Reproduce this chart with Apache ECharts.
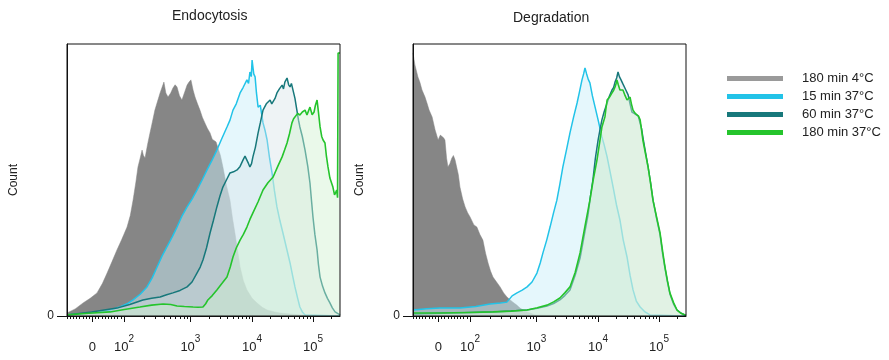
<!DOCTYPE html>
<html><head><meta charset="utf-8">
<script src="https://cdn.jsdelivr.net/npm/echarts@6/dist/echarts.min.js"></script>
<style>html,body{margin:0;padding:0;background:#fff}#c{width:889px;height:360px}</style>
</head><body><div id="c"></div>
<script>
// ---- text ----
const panelTitles = ['Endocytosis', 'Degradation'];
const yAxisTitle = 'Count';
const seriesNames = ['180 min 4°C', '15 min 37°C', '60 min 37°C', '180 min 37°C'];

// ---- x axis: biexponential display channels (0..1000) ----
const tickChannels = [93, 209, 452, 678, 901];
const tickLabels = ['0', '10^2', '10^3', '10^4', '10^5'];
const decadeChannels = [209, 452, 678, 901, 1124]; // 10^2 .. 10^6

// ---- histograms: [channel, % of max count] ----
const endoGray = [[0,1.1],[30,2.6],[59,4.8],[85,6.5],[110,8.5],[130,12],[147,15.8],[165,20],[183,24.3],[200,28],[220,32.7],[232,37],[242,42.6],[252,49],[260,54.8],[268,58],[275,61.0],[280,59],[286,58.1],[295,63],[304,67.3],[312,71],[322,75.7],[332,79],[341,82.0],[348,84],[355,86.0],[362,82],[370,80.5],[380,82],[388,83.8],[396,85],[403,84.2],[412,81],[421,79.4],[430,82],[440,84.9],[447,86],[454,86.8],[462,83],[469,80.5],[478,78],[487,75.7],[496,73],[505,71.0],[514,69],[524,67.3],[532,65],[538,65.4],[546,64],[553,64.7],[562,59],[571,54.8],[584,48],[597,42.6],[606,36],[615,30.5],[625,24],[634,18.0],[646,13],[659,9.6],[678,6.5],[696,4.8],[715,3.2],[733,2.2],[760,1.5],[780,1.1],[853,0.4],[1000,0]];
const endoCyan = [[0,0.4],[60,0.9],[121,1.5],[160,2.3],[194,3.3],[220,4.5],[242,5.9],[268,8],[293,10.7],[312,14],[330,18.0],[348,22],[366,25.4],[385,29],[403,32.7],[420,36.5],[440,40.1],[458,43],[476,46.3],[495,50],[513,53.7],[530,57],[549,61.0],[566,65],[586,69.5],[597,72],[608,75.7],[620,78],[634,82.0],[645,84],[659,86.8],[665,85.5],[670,89.7],[675,88],[678,94.1],[684,89],[689,87.9],[694,82],[700,76.8],[708,77.5],[718,71.0],[726,68],[733,64.7],[742,58],[751,52.6],[760,46],[769,40.1],[780,35],[791,30.5],[804,25],[817,19.5],[826,15],[835,10.7],[845,6.5],[853,3.3],[862,1.5],[872,0.4],[1000,0]];
const endoTeal = [[0,0.4],[90,1.5],[183,2.9],[230,4.2],[278,5.9],[310,6.5],[341,7.0],[365,7.8],[388,8.5],[414,9.4],[440,10.7],[458,12.5],[476,15.8],[488,18],[498,20.6],[511,25],[524,30.5],[536,35],[549,40.1],[560,44],[571,47.4],[584,50],[597,52.6],[610,53],[623,53.7],[634,55],[645,57.4],[652,58.8],[659,58.5],[665,56],[670,54.8],[676,56],[681,58.5],[690,62],[700,67.3],[708,71],[718,75.7],[730,78],[744,79.4],[750,78],[755,77.6],[762,80],[769,82.0],[778,83.5],[788,84.9],[793,83.5],[798,86.0],[802,86],[806,87.5],[812,85],[817,84.2],[822,85.5],[828,84.9],[835,80],[842,75.7],[848,72],[853,69.5],[862,66],[872,61.0],[882,55],[890,48.9],[896,42],[901,36.4],[908,30],[916,24.3],[921,19],[927,14.3],[936,11],[945,8.5],[954,6.5],[963,4.8],[972,3],[982,1.5],[1000,0.4]];
const endoGreen = [[0,0.4],[80,1],[158,1.5],[210,2.4],[267,3.3],[310,4],[352,4.4],[380,4.2],[403,3.7],[430,3.5],[462,3.3],[480,3.2],[498,3.3],[508,4.5],[516,5.9],[532,7.5],[549,9.6],[568,12],[586,14.3],[598,18],[608,21.7],[620,25],[634,27.9],[646,30],[659,32.7],[670,35.5],[681,37.9],[700,42],[718,46.3],[736,49],[755,51.1],[772,55],[788,58.5],[797,61],[806,63.6],[815,67],[824,71.0],[830,72.5],[835,73.2],[845,74.5],[853,73.9],[862,75],[872,75.7],[879,73.9],[885,75.5],[890,76.8],[898,74],[905,75.0],[910,77.5],[916,79.4],[921,75],[927,69.5],[933,66],[938,64.7],[945,63.6],[950,59],[956,54.8],[963,50.7],[968,50],[974,47.4],[980,44.5],[984,43.8],[988,46.3],[991,43.5],[993,96.7],[1000,96.7]];

const degrGray = [[0,96.7],[7,92.3],[18,87.9],[25,86],[33,83.1],[44,80.5],[52,78],[59,75.7],[70,73.2],[81,68.4],[92,64.7],[100,66.5],[106,67],[112,65.5],[117,64.7],[123,58],[128,54.8],[135,56],[142,58],[148,59],[154,57.4],[161,58.1],[166,52],[172,47.4],[182,43],[191,40.1],[200,38],[209,36.4],[223,33.5],[234,32.7],[245,30],[256,27.9],[266,23],[275,19.5],[284,16.5],[293,14.3],[306,12.5],[319,10.7],[332,8.5],[344,7.0],[355,6],[366,5.1],[380,4],[392,2.9],[405,2.1],[418,1.5],[447,0.4],[600,0],[1000,0]];
const degrCyan = [[0,2.2],[50,2.7],[99,2.9],[172,2.9],[230,3.5],[282,4.4],[320,4.8],[344,5.1],[363,7.4],[381,8.5],[400,9.5],[418,10.7],[436,12.5],[454,15.8],[466,19.5],[476,23.2],[490,28],[502,32.7],[515,38],[527,42.6],[538,48.5],[549,54.8],[562,61],[575,67.3],[588,73],[601,78.3],[610,82.5],[619,86.8],[625,89],[630,91.2],[636,89],[642,87],[648,85.7],[657,81],[667,76.8],[678,72.1],[685,69],[692,65.8],[700,63],[711,58.5],[722,53],[733,47.4],[745,41],[758,35.3],[770,28],[784,21.7],[795,15],[806,9.6],[818,5.5],[832,3.3],[850,1.5],[868,0.4],[1000,0]];
const degrTeal = [[0,0.7],[150,1.1],[293,1.5],[360,1.8],[418,2.2],[455,2.8],[491,3.7],[515,4.6],[538,5.9],[556,7.5],[575,9.6],[594,15],[612,21.3],[626,29],[641,37.1],[650,44],[659,50.0],[668,58],[678,64.7],[685,68.5],[692,72.1],[700,75],[711,78.3],[720,81],[729,83.1],[735,84],[740,86.0],[746,87.5],[751,89.7],[756,88],[762,86.8],[768,85.5],[773,84.9],[780,83],[788,81.3],[795,78],[802,75.0],[810,74.5],[817,74.6],[825,73.5],[832,72.8],[837,69],[842,65.8],[852,60],[861,54.8],[870,49],[879,42.6],[892,36],[905,29.8],[914,23],[923,17.6],[932,12.5],[941,8.1],[954,4.5],[967,2.2],[982,1],[996,0.4],[1000,0.3]];
const degrGreen = [[0,1.1],[99,1.1],[200,1.3],[293,1.5],[360,1.8],[418,2.2],[455,3],[491,4.0],[515,5.2],[538,6.6],[556,8.5],[575,10.7],[594,16],[612,23.2],[630,33],[648,42.6],[660,50],[674,57.4],[684,64],[692,69.5],[698,71.5],[703,73.2],[707,76.5],[711,79.4],[720,80.5],[729,82.0],[735,83],[740,84.2],[744,85.5],[747,86.8],[752,85],[758,83.1],[763,82.5],[769,83.1],[777,81],[784,79.4],[790,79.5],[795,80.5],[800,78],[806,75.7],[814,74.5],[821,73.9],[826,73.5],[832,72.1],[837,68.5],[842,64.7],[851,60],[861,54.8],[870,49],[879,42.6],[892,36.5],[905,30.5],[914,24],[923,18.0],[932,13],[941,8.5],[954,5],[967,2.2],[982,1],[996,0.4],[1000,0.3]];

const panelData = [
  [endoGray, endoCyan, endoTeal, endoGreen],
  [degrGray, degrCyan, degrTeal, degrGreen]
];

// ---- styles ----
const lineColors = ['#858585', '#22c3e8', '#17787b', '#25c42c'];
const legendColors = ['#9a9a9a', '#22c3e8', '#17787b', '#25c42c'];
const fillColors = ['#868686', 'rgba(200,238,248,0.48)', 'rgba(215,226,231,0.42)', 'rgba(208,242,208,0.45)'];
const lineWidths = [0.5, 1.5, 1.5, 1.6];

// minor ticks (axis scale, not data)
const minorTicks = [];
for (let n = -8; n <= 9; n++) { if (n !== 0) minorTicks.push(tickChannels[0] + n * (decadeChannels[0] - tickChannels[0]) / 10); }
for (let k = 0; k < 4; k++) {
  for (let m = 2; m <= 9; m++) {
    const v = decadeChannels[k] + Math.log10(m) * (decadeChannels[k + 1] - decadeChannels[k]);
    if (v <= 1000) minorTicks.push(v);
  }
}

const grids = [
  { left: 67, top: 44, width: 273, height: 272 },
  { left: 413, top: 44, width: 273, height: 272 }
];

function labelFmt(v) {
  const i = tickChannels.indexOf(v);
  if (i < 0) return '';
  const t = tickLabels[i];
  if (t.indexOf('^') > 0) { const p = t.split('^'); return '{b|' + p[0] + '}{s|' + p[1] + '}'; }
  return '{b|' + t + '}';
}

const xAxes = [], yAxes = [], series = [];
grids.forEach((g, gi) => {
  xAxes.push({
    type: 'value', gridIndex: gi, min: 0, max: 1000, position: 'bottom', z: 10,
    axisLine: { show: true, lineStyle: { color: '#111', width: 1 } },
    axisTick: { show: true, customValues: tickChannels, length: 6, lineStyle: { color: '#111' } },
    axisLabel: {
      show: true, customValues: tickChannels, formatter: labelFmt, margin: 19, color: '#222',
      rich: {
        b: { fontFamily: 'Liberation Sans', fontSize: 13, lineHeight: 24, color: '#222' },
        s: { fontFamily: 'Liberation Sans', fontSize: 10, lineHeight: 8, padding: [0, 0, 16, 0], color: '#222' }
      }
    },
    splitLine: { show: false }
  });
  xAxes.push({
    type: 'value', gridIndex: gi, min: 0, max: 1000, position: 'bottom', z: 10,
    axisLine: { show: false },
    axisTick: { show: true, customValues: minorTicks, length: 3, lineStyle: { color: '#111' } },
    axisLabel: { show: false },
    splitLine: { show: false }
  });
  yAxes.push({
    type: 'value', gridIndex: gi, min: 0, max: 100, z: 10,
    name: yAxisTitle, nameLocation: 'middle', nameGap: 47,
    nameTextStyle: { fontFamily: 'Liberation Sans', fontSize: 12, color: '#222' },
    axisLine: { show: true, lineStyle: { color: '#111' } },
    axisTick: { show: true, customValues: [0], length: 10, lineStyle: { color: '#111' } },
    axisLabel: { show: true, customValues: [0], formatter: v => (v === 0 ? '0' : ''), margin: 13,
      fontFamily: 'Liberation Sans', fontSize: 12, color: '#222' },
    splitLine: { show: false }
  });
  panelData[gi].forEach((d, si) => {
    series.push({
      type: 'line', name: seriesNames[si], xAxisIndex: gi * 2, yAxisIndex: gi,
      z: 2 + si,
      data: d, showSymbol: false, symbol: 'none', smooth: false,
      itemStyle: { color: legendColors[si] },
      lineStyle: { color: lineColors[si], width: lineWidths[si] },
      areaStyle: { color: fillColors[si], opacity: 1, origin: 'start' },
      emphasis: { disabled: true }, silent: true
    });
  });
});

const chart = echarts.init(document.getElementById('c'), null, { renderer: 'canvas' });
chart.setOption({
  animation: false,
  backgroundColor: '#fff',
  title: [
    { text: panelTitles[0], left: 172, top: 9, padding: 0, textStyle: { fontFamily: 'Liberation Sans', fontSize: 14, fontWeight: 'normal', color: '#222' } },
    { text: panelTitles[1], left: 513, top: 11, padding: 0, textStyle: { fontFamily: 'Liberation Sans', fontSize: 14, fontWeight: 'normal', color: '#222' } }
  ],
  legend: {
    orient: 'vertical', left: 727, top: 71, padding: 0,
    icon: 'rect', itemWidth: 56, itemHeight: 5, itemGap: 3,
    selectedMode: false,
    data: seriesNames.map((n, i) => ({ name: n, itemStyle: { color: legendColors[i] } })),
    textStyle: { fontFamily: 'Liberation Sans', fontSize: 13, lineHeight: 15, color: '#222', padding: [0, 0, 0, 14] }
  },
  grid: grids.map(g => Object.assign({ show: true, borderColor: '#111', borderWidth: 1, backgroundColor: 'transparent', containLabel: false, z: 20 }, g)),
  xAxis: xAxes,
  yAxis: yAxes,
  series: series
});
</script></body></html>
